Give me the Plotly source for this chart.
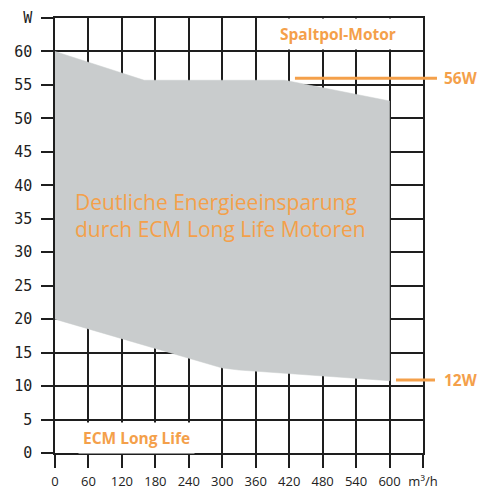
import plotly.graph_objects as go

# Data
upper_x = [0, 160, 412, 600]
upper_y = [60, 55.7, 55.7, 52.6]
lower_x = [0, 300, 330, 600]
lower_y = [20, 12.7, 12.4, 10.8]

x_ticks = [0, 60, 120, 180, 240, 300, 360, 420, 480, 540, 600, 660]
x_labels = ["0", "60", "120", "180", "240", "300", "360", "420", "480", "540", "600", "m³/h"]
y_ticks = [0, 5, 10, 15, 20, 25, 30, 35, 40, 45, 50, 55, 60, 65]
y_labels = ["0", "5", "10", "15", "20", "25", "30", "35", "40", "45", "50", "55", "60", "W"]

ref_levels = [56, 10.9]
ref_labels = ["56W", "12W"]

ORANGE = "#F4A04A"
GRAY = "#C9CCCD"
GRID = "#1e1e1e"

poly_x = upper_x + lower_x[::-1]
poly_y = upper_y + lower_y[::-1]

fig = go.Figure()
fig.add_trace(go.Scatter(
    x=poly_x, y=poly_y, fill="toself", fillcolor=GRAY,
    mode="lines", line=dict(color=GRAY, width=0.5),
    hoverinfo="skip", showlegend=False,
))

axis_common = dict(
    showgrid=True, gridcolor=GRID, gridwidth=1.6,
    showline=True, linecolor=GRID, linewidth=1.6, mirror=True,
    ticks="outside", tickcolor=GRID, tickwidth=1.6,
    zeroline=False, layer="below traces", fixedrange=True,
    automargin=False,
)

fig.update_xaxes(
    range=[0, 660], tickmode="array", tickvals=x_ticks, ticktext=x_labels,
    ticklen=13, tickfont=dict(family="Open Sans", size=13, color="#222"),
    ticklabelstandoff=3,
    **axis_common,
)
fig.update_yaxes(
    range=[0, 65], tickmode="array", tickvals=y_ticks, ticktext=y_labels,
    ticklen=12, tickfont=dict(family="DejaVu Sans Mono", size=15, color="#222"),
    ticklabelstandoff=6,
    **axis_common,
)

# Reference lines (56W / 12W)
line_spans = [(0.652, 1.038), (0.9266, 1.0326)]
for lvl, lab, (x0, x1) in zip(ref_levels, ref_labels, line_spans):
    fig.add_shape(type="line", xref="paper", yref="y", x0=x0, x1=x1, y0=lvl, y1=lvl,
                  line=dict(color=ORANGE, width=3))
    fig.add_annotation(xref="paper", yref="y", x=1.0516, y=lvl, text=f"<b>{lab}</b>",
                       showarrow=False, xanchor="left", yanchor="middle",
                       font=dict(family="Open Sans", size=15.5, color=ORANGE))

fig.add_annotation(x=507, y=62.6, text="<b>Spaltpol-Motor</b>", showarrow=False,
                   bgcolor="white", borderpad=4,
                   font=dict(family="Open Sans", size=15.5, color=ORANGE))
fig.add_annotation(x=147, y=2.3, text="<b>ECM Long Life</b>", showarrow=False,
                   bgcolor="white", borderpad=4,
                   font=dict(family="Open Sans", size=15.5, color=ORANGE))
fig.add_annotation(x=32, y=35.5, text="Deutliche Energieeinsparung<br>durch ECM Long Life Motoren",
                   showarrow=False, xanchor="left", yanchor="middle", align="left",
                   font=dict(family="Open Sans", size=21, color=ORANGE))

fig.update_layout(
    width=488, height=491,
    margin=dict(l=55, r=65, t=18, b=38),
    paper_bgcolor="white", plot_bgcolor="white",
    showlegend=False,
)

fig.write_html("out.html", config={"displayModeBar": False},
               post_script="document.body.style.margin='0px';document.body.style.overflow='hidden';")
